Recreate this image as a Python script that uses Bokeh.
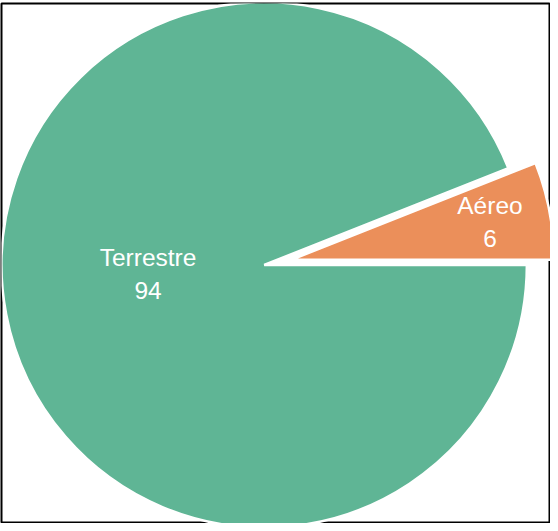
import math
from bokeh.plotting import figure
from bokeh.models import ColumnDataSource
from bokeh.core.properties import value
from bokeh.embed import file_html
from bokeh.resources import INLINE

categories = ["Terrestre", "Aéreo"]
values = [94, 6]
colors = ["#5fb595", "#eb8f5a"]
explode = [0.0, 0.105]
label_r = [0.45, 0.77]
label_lift = [0.05, 0.0]

total = sum(values)
# slices: Aéreo starts at 3 o'clock going counter-clockwise, Terrestre takes the rest
spans = [2 * math.pi * v / total for v in values]
starts = [spans[1], 0.0]
ends = [2 * math.pi, spans[1]]

cx, cy, lx, ly, texts = [], [], [], [], []
for c, v, e, lr, lift, s0, s1 in zip(categories, values, explode, label_r,
                                      label_lift, starts, ends):
    mid = (s0 + s1) / 2
    ox, oy = e * math.cos(mid), e * math.sin(mid)
    cx.append(ox)
    cy.append(oy)
    lx.append(ox + lr * math.cos(mid))
    ly.append(oy + lr * math.sin(mid) + lift)
    texts.append(f"{c}\n{v}")

src = ColumnDataSource(dict(cat=categories, val=values, color=colors,
                            start=starts, end=ends, x=cx, y=cy))
lsrc = ColumnDataSource(dict(x=lx, y=ly, text=texts))

W, H = 550, 523
p = figure(width=W, height=H, output_backend="svg", toolbar_location=None,
           x_range=(-1.0, 1.09), y_range=(-0.986, 0.997),
           min_border_left=1, min_border_top=3, min_border_right=0, min_border_bottom=0)
p.axis.visible = False
p.grid.visible = False
p.outline_line_color = "black"
p.outline_line_width = 2
p.background_fill_color = "white"
p.border_fill_color = "white"

p.wedge(x="x", y="y", radius=1.0, start_angle="start", end_angle="end",
        fill_color="color", line_color="white", line_width=2.5, source=src)

p.text(x="x", y="y", text="text", source=lsrc, text_color="white",
       text_font=value("Liberation Sans"), text_font_size="24.5px",
       text_align="center", text_baseline="middle", text_line_height=1.2)

open("out.html", "w").write(file_html(p, INLINE))
